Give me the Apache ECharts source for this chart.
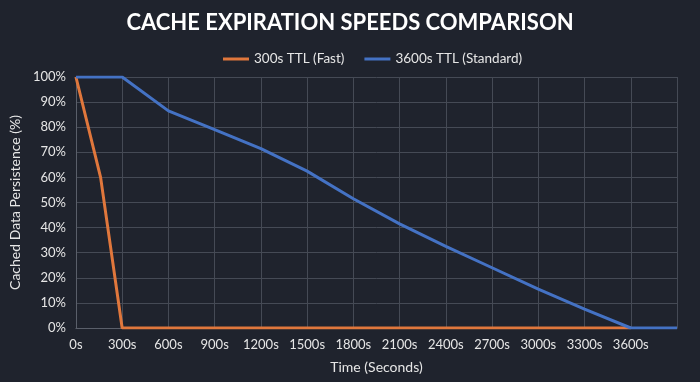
<!DOCTYPE html>
<html>
<head>
<meta charset="utf-8">
<script src="https://cdn.jsdelivr.net/npm/echarts@6/dist/echarts.min.js"></script>
<style>
  html, body { margin: 0; padding: 0; background: #1f232d; }
  #chart { width: 700px; height: 382px; }
</style>
</head>
<body>
<div id="chart"></div>
<script>
var fastName = '300s TTL (Fast)';
var stdName = '3600s TTL (Standard)';

// seconds / % of cached data left
var fastTimes = [0, 160, 300, 3600];
var fastValues = [100, 60, 0, 0];
var stdTimes = [0, 300, 600, 900, 1200, 1500, 1800, 2100, 2400, 2700, 3000, 3300, 3600, 3900];
var stdValues = [100, 100, 86.5, 79, 71.5, 62.5, 51.5, 41.5, 32.5, 24, 15.5, 7.5, 0, 0];

function pairs(xs, ys) {
  return xs.map(function (x, i) { return [x, ys[i]]; });
}

var chartDom = document.getElementById('chart');
var chart = echarts.init(chartDom);
var font = 'Lato';

var option = {
  backgroundColor: '#1f232d',
  animation: false,
  textStyle: { fontFamily: font },
  title: {
    text: 'CACHE EXPIRATION SPEEDS COMPARISON',
    left: 'center',
    top: 7,
    textStyle: { color: '#ffffff', fontSize: 22, fontWeight: 'bold', fontFamily: font }
  },
  legend: {
    top: 47,
    left: 218,
    itemWidth: 26,
    itemHeight: 3,
    itemGap: 20,
    icon: 'rect',
    textStyle: { color: '#e6e6e6', fontSize: 13.5, fontFamily: font },
    data: [fastName, stdName]
  },
  grid: { left: 75, right: 23, top: 77, bottom: 54 },
  xAxis: {
    type: 'value',
    min: 0,
    max: 3900,
    interval: 300,
    name: 'Time (Seconds)',
    nameLocation: 'middle',
    nameGap: 32,
    nameTextStyle: { color: '#e6e6e6', fontSize: 14, fontFamily: font },
    axisLine: { show: true, lineStyle: { color: '#5a5f6a' } },
    axisTick: { show: false },
    axisLabel: {
      color: '#e6e6e6',
      fontSize: 13,
      margin: 10,
      formatter: function (v) { return v === 3900 ? '' : v + 's'; }
    },
    splitLine: { show: true, lineStyle: { color: '#454a55' } }
  },
  yAxis: {
    type: 'value',
    min: 0,
    max: 100,
    interval: 10,
    name: 'Cached Data Persistence (%)',
    nameLocation: 'middle',
    nameGap: 48,
    nameTextStyle: { color: '#e6e6e6', fontSize: 14, fontFamily: font },
    axisLine: { show: true, lineStyle: { color: '#5a5f6a' } },
    axisTick: { show: false },
    axisLabel: { color: '#e6e6e6', fontSize: 13, margin: 10, formatter: '{value}%' },
    splitLine: { show: true, lineStyle: { color: '#454a55' } }
  },
  series: [
    {
      name: fastName,
      type: 'line',
      showSymbol: false,
      data: pairs(fastTimes, fastValues),
      itemStyle: { color: '#e0773c' },
      lineStyle: { color: '#e0773c', width: 3 }
    },
    {
      name: stdName,
      type: 'line',
      showSymbol: false,
      data: pairs(stdTimes, stdValues),
      itemStyle: { color: '#4472c4' },
      lineStyle: { color: '#4472c4', width: 3 }
    }
  ]
};

option && chart.setOption(option);
</script>
</body>
</html>
